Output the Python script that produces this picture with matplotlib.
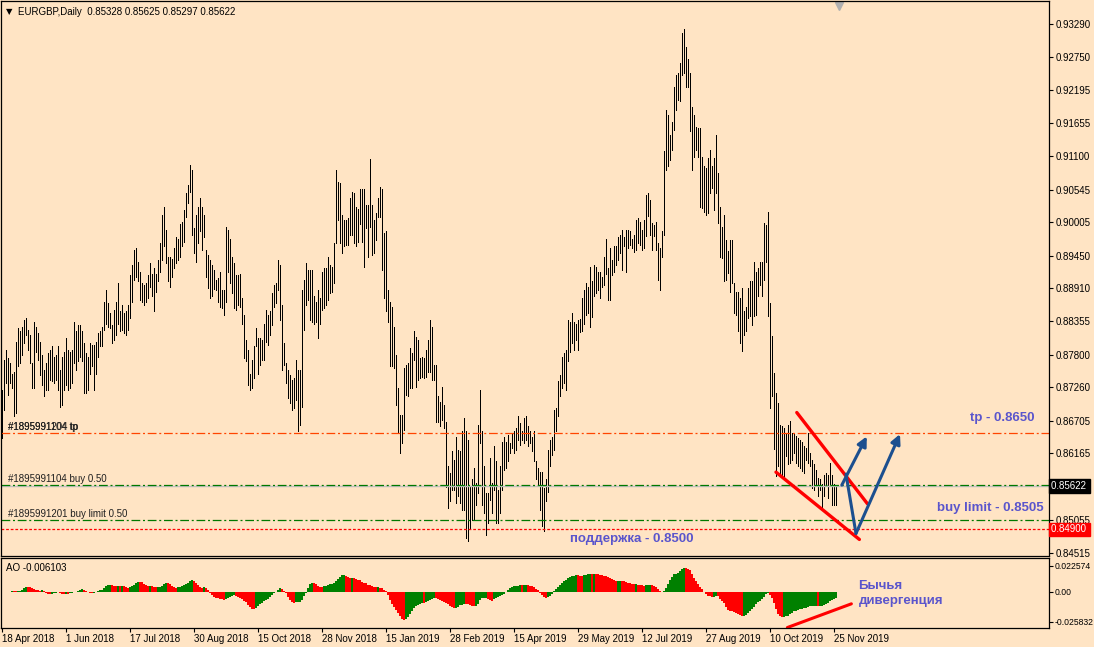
import matplotlib
matplotlib.use('Agg')
import matplotlib.pyplot as plt
import matplotlib.transforms as mtransforms
import numpy as np
import pandas as pd

# EURGBP daily bars, high / low in pips (x 1e-4)
high_pips = [
    8722, 8772, 8788, 8774, 8766, 8749, 8752, 8802, 8824, 8819,
    8827, 8838, 8841, 8821, 8813, 8766, 8835, 8827, 8816, 8802,
    8780, 8755, 8766, 8783, 8788, 8794, 8777, 8780, 8794, 8755,
    8777, 8785, 8808, 8788, 8785, 8788, 8835, 8819, 8830, 8830,
    8819, 8799, 8783, 8777, 8799, 8796, 8796, 8802, 8816, 8819,
    8827, 8868, 8888, 8866, 8849, 8830, 8855, 8868, 8899, 8852,
    8863, 8849, 8852, 8863, 8913, 8929, 8954, 8957, 8935, 8918,
    8899, 8896, 8899, 8913, 8932, 8915, 8924, 8915, 8938, 8965,
    9012, 9026, 8987, 8943, 8943, 8940, 8957, 8976, 8973, 8998,
    9001, 9020, 9048, 9062, 9095, 9087, 8990, 9012, 9026, 9040,
    9026, 9012, 8954, 8946, 8938, 8929, 8921, 8904, 8907, 8918,
    8888, 8888, 8993, 8987, 8973, 8943, 8932, 8913, 8913, 8915,
    8874, 8846, 8805, 8788, 8749, 8772, 8794, 8824, 8808, 8808,
    8805, 8832, 8855, 8846, 8852, 8882, 8896, 8899, 8938, 8929,
    8863, 8799, 8766, 8755, 8747, 8738, 8741, 8772, 8755, 8755,
    8888, 8904, 8932, 8921, 8921, 8921, 8877, 8868, 8888, 8874,
    8918, 8924, 8924, 8943, 8929, 8926, 8965, 9087, 9067, 9066,
    9012, 9004, 9004, 9007, 9040, 9051, 9048, 9026, 9023, 9056,
    9056, 9056, 9029, 9029, 9106, 9029, 9004, 9015, 9040, 9059,
    9056, 8982, 8985, 8888, 8868, 8860, 8827, 8780, 8725, 8680,
    8680, 8758, 8763, 8766, 8791, 8783, 8819, 8810, 8805, 8774,
    8777, 8774, 8788, 8805, 8838, 8827, 8763, 8763, 8711, 8702,
    8727, 8697, 8669, 8595, 8584, 8620, 8606, 8644, 8622, 8620,
    8653, 8675, 8653, 8639, 8561, 8573, 8592, 8567, 8664, 8722,
    8653, 8595, 8550, 8550, 8608, 8567, 8628, 8603, 8556, 8595,
    8636, 8644, 8636, 8647, 8633, 8650, 8653, 8658, 8678, 8667,
    8653, 8675, 8678, 8661, 8653, 8644, 8653, 8603, 8592, 8586,
    8586, 8559, 8573, 8622, 8639, 8644, 8689, 8691, 8736, 8747,
    8777, 8783, 8788, 8838, 8835, 8849, 8835, 8832, 8838, 8840,
    8874, 8888, 8899, 8893, 8926, 8902, 8929, 8926, 8918, 8918,
    8910, 8943, 8973, 8924, 8957, 8938, 8960, 8960, 8976, 8979,
    8987, 8976, 8987, 8987, 8985, 8973, 8979, 9004, 9007, 9001,
    8988, 9004, 9046, 9048, 9037, 8999, 8996, 9001, 8965, 8957,
    8985, 9118, 9187, 9178, 9145, 9167, 9225, 9245, 9248, 9264,
    9314, 9321, 9292, 9272, 9248, 9192, 9178, 9159, 9156, 9156,
    9109, 9093, 9090, 9107, 9120, 9093, 9107, 9145, 9082, 9026,
    8993, 9013, 8971, 8952, 8971, 8971, 8899, 8885, 8885, 8874,
    8891, 8852, 8860, 8891, 8902, 8902, 8935, 8918, 8924, 8935,
    8935, 8999, 8996, 9018, 8866, 8811, 8750, 8717, 8700, 8664,
    8661, 8659, 8650, 8664, 8670, 8650, 8650, 8645, 8642, 8639,
    8636, 8628, 8625, 8650, 8617, 8606, 8598, 8589, 8576, 8573,
    8565, 8581, 8584, 8581, 8601, 8581, 8565, 8562,
]
low_pips = [
    8642, 8689, 8733, 8714, 8733, 8725, 8678, 8683, 8761, 8766,
    8780, 8799, 8813, 8788, 8766, 8725, 8725, 8785, 8772, 8747,
    8730, 8711, 8722, 8722, 8738, 8736, 8733, 8738, 8722, 8694,
    8697, 8722, 8730, 8722, 8725, 8733, 8766, 8755, 8769, 8777,
    8769, 8716, 8716, 8722, 8749, 8761, 8722, 8749, 8777, 8794,
    8794, 8821, 8832, 8827, 8824, 8799, 8805, 8813, 8832, 8819,
    8821, 8816, 8813, 8821, 8841, 8868, 8904, 8910, 8902, 8871,
    8868, 8863, 8868, 8874, 8893, 8877, 8852, 8885, 8902, 8918,
    8938, 8960, 8932, 8902, 8893, 8910, 8924, 8932, 8938, 8943,
    8960, 8968, 9009, 9032, 9051, 8979, 8949, 8935, 8965, 8985,
    8954, 8976, 8910, 8891, 8874, 8877, 8890, 8888, 8868, 8860,
    8857, 8846, 8868, 8918, 8899, 8882, 8857, 8855, 8863, 8860,
    8832, 8774, 8769, 8730, 8722, 8725, 8741, 8794, 8749, 8763,
    8772, 8772, 8802, 8796, 8813, 8830, 8860, 8866, 8888, 8838,
    8755, 8763, 8733, 8708, 8700, 8689, 8691, 8705, 8653, 8664,
    8694, 8821, 8863, 8871, 8838, 8835, 8832, 8835, 8808, 8832,
    8855, 8857, 8863, 8871, 8882, 8885, 8899, 8965, 9004, 8965,
    8949, 8960, 8962, 8962, 8979, 8979, 8965, 8960, 8968, 8998,
    8968, 8926, 8990, 8943, 8993, 8946, 8949, 8971, 9009, 9009,
    8921, 8874, 8852, 8835, 8761, 8761, 8758, 8697, 8650, 8617,
    8633, 8655, 8714, 8711, 8725, 8725, 8772, 8727, 8738, 8741,
    8744, 8741, 8744, 8752, 8752, 8738, 8738, 8669, 8669, 8661,
    8672, 8658, 8561, 8526, 8537, 8556, 8556, 8534, 8545, 8534,
    8523, 8523, 8476, 8470, 8490, 8506, 8506, 8531, 8550, 8633,
    8531, 8517, 8481, 8501, 8539, 8517, 8556, 8501, 8501, 8517,
    8556, 8589, 8592, 8603, 8617, 8625, 8617, 8622, 8639, 8631,
    8639, 8633, 8639, 8628, 8633, 8620, 8603, 8573, 8564, 8523,
    8495, 8487, 8537, 8553, 8595, 8614, 8622, 8653, 8678, 8711,
    8725, 8733, 8722, 8769, 8785, 8799, 8788, 8805, 8788, 8818,
    8819, 8832, 8846, 8849, 8827, 8843, 8877, 8882, 8888, 8874,
    8893, 8896, 8915, 8871, 8871, 8913, 8918, 8929, 8938, 8949,
    8921, 8960, 8918, 8957, 8962, 8957, 8951, 8954, 8965, 8963,
    8954, 8957, 8977, 9010, 8979, 8954, 8977, 8954, 8905, 8888,
    8943, 8979, 9087, 9093, 9104, 9120, 9154, 9187, 9203, 9201,
    9245, 9248, 9225, 9225, 9151, 9087, 9109, 9120, 9109, 9026,
    9024, 9018, 9013, 9015, 9048, 9057, 9021, 9048, 8999, 8943,
    8941, 8902, 8905, 8916, 8885, 8899, 8849, 8847, 8819, 8800,
    8786, 8813, 8819, 8841, 8844, 8830, 8844, 8847, 8877, 8896,
    8877, 8905, 8935, 8844, 8692, 8711, 8623, 8578, 8595, 8578,
    8576, 8576, 8612, 8598, 8601, 8606, 8617, 8601, 8595, 8592,
    8587, 8584, 8606, 8601, 8595, 8559, 8556, 8565, 8545, 8556,
    8523, 8545, 8562, 8543, 8565, 8531, 8531, 8530,
]

date_ticks = [0, 32, 64, 96, 128, 160, 192, 224, 256, 288, 320, 352, 384, 416]
date_labels = ['18 Apr 2018', '1 Jun 2018', '17 Jul 2018', '30 Aug 2018',
               '15 Oct 2018', '28 Nov 2018', '15 Jan 2019', '28 Feb 2019',
               '15 Apr 2019', '29 May 2019', '12 Jul 2019', '27 Aug 2019',
               '10 Oct 2019', '25 Nov 2019']
price_ticks = [0.93290, 0.92750, 0.92195, 0.91655, 0.91100, 0.90545, 0.90005,
               0.89450, 0.88910, 0.88355, 0.87800, 0.87260, 0.86705, 0.86165,
               0.85055, 0.84515]
ao_ticks = [0.022574, 0.0, -0.025832]
ao_tick_labels = ['0.022574', '0.00', '-0.025832']

header = 'EURGBP,Daily  0.85328 0.85625 0.85297 0.85622'
ao_header = 'AO -0.006103'

tp_level = 0.8650
bid_level = 0.85622
buy_level = 0.85635
limit_level = 0.8505
support_level = 0.8490

# hand drawn objects (bar index, price)
channel_top = [(397.2, 0.86842), (432.5, 0.85328)]
channel_bottom = [(386.8, 0.85852), (428.5, 0.84734)]
arrow_one = [(419.7, 0.85637), (432.2, 0.86446)]
arrow_two = [(421.8, 0.85818), (426.8, 0.84833), (448.8, 0.86484)]
ao_line = [(392.5, -0.0309), (424.5, -0.0103)]

BG = '#ffe4c4'
GREEN = '#007800'
BLUE_TXT = '#5a55cc'
plt.rcParams['font.family'] = ['Liberation Sans', 'DejaVu Sans']

high = np.array(high_pips) / 10000.0
low = np.array(low_pips) / 10000.0
idx = np.arange(len(high))

med = pd.Series((high + low) / 2)
ao = (med.rolling(5, min_periods=1).mean() - med.rolling(34, min_periods=1).mean()).values
up = np.r_[True, np.diff(ao) >= 0]
ao_colors = np.where(up, '#008000', '#ff0000')

W, H = 1094, 647
fig = plt.figure(figsize=(W / 100, H / 100), dpi=100, facecolor=BG)
ax = fig.add_axes([1 / W, 1 - 556 / H, 1048 / W, 555 / H], facecolor=BG)
ax2 = fig.add_axes([1 / W, 1 - 628 / H, 1048 / W, 70 / H], facecolor=BG)

x_lo, x_hi = -0.665, 523.3
for a in (ax, ax2):
    a.set_xlim(x_lo, x_hi)
    for s in a.spines.values():
        s.set_color('black')
        s.set_linewidth(0.9)

# price bars
ax.vlines(idx, low, high, color='black', lw=0.5, antialiased=False)
ax.set_ylim(0.84459, 0.93677)

# order / level lines
dashdot = (0, (7.0, 2.2, 1.6, 2.2))
ax.axhline(tp_level, color='#ff4500', lw=0.9, linestyle=dashdot)
ax.axhline(bid_level, color='#c0c0c0', lw=1.0)
ax.axhline(buy_level, color=GREEN, lw=0.9, linestyle=dashdot)
ax.axhline(limit_level, color=GREEN, lw=0.9, linestyle=dashdot)
ax.axhline(support_level, color='#ff0000', lw=0.9, linestyle=(0, (2.2, 1.5)))

lbl = dict(fontsize=7, color='#202020', va='bottom', ha='left')
ax.text(2.8, tp_level + 0.0002, '#1895991104 tp', **lbl)
ax.text(2.8, tp_level + 0.0002, '#1895991204 tp', **lbl)
ax.text(2.8, buy_level + 0.0002, '#1895991104 buy 0.50', **lbl)
ax.text(2.8, limit_level + 0.0002, '#1895991201 buy limit 0.50', **lbl)

# chart header with the small drop-down triangle
ax.text(2.0, 0.9350, '\u25BC', fontsize=6, color='black', va='center', ha='left',
        family=['DejaVu Sans'])
ax.text(7.8, 0.9350, header, fontsize=7, color='black', va='center', ha='left')

# channel lines and arrows
for seg in (channel_top, channel_bottom):
    xs, ys = zip(*seg)
    ax.plot(xs, ys, color='#ff0000', lw=2.4, solid_capstyle='round')
arrow_kw = dict(arrowstyle='-|>', color='#1c4f8f', lw=2.2, mutation_scale=14,
                shrinkA=0, shrinkB=0)
ax.annotate('', xy=arrow_one[1], xytext=arrow_one[0], arrowprops=arrow_kw)
xs, ys = zip(*arrow_two[:2])
ax.plot(xs, ys, color='#1c4f8f', lw=2.2, solid_capstyle='round')
ax.annotate('', xy=arrow_two[2], xytext=arrow_two[1], arrowprops=arrow_kw)

tfont = dict(fontsize=9.5, fontweight='bold', color=BLUE_TXT)
ax.text(500, 0.86745, 'tp - 0.8650', ha='center', va='center', **tfont)
ax.text(494, 0.85250, 'buy limit - 0.8505', ha='center', va='center', **tfont)
ax.text(314.5, 0.84740, 'поддержка - 0.8500', ha='center', va='center', **tfont)

# shift marker at the top
ax.plot([418.5], [0.93600], marker='v', color='#b0b0b0', ms=6, clip_on=False)

# right price scale
ax.yaxis.tick_right()
ax.set_yticks(price_ticks)
ax.set_yticklabels(['%.5f' % v for v in price_ticks])
ax.tick_params(axis='y', direction='out', length=3, width=0.8, pad=2, labelsize=7, colors='black')
ax.set_xticks([])

yt = mtransforms.blended_transform_factory(ax.transAxes, ax.transData)
ax.text(1.0015, bid_level, '0.85622 ', transform=yt, fontsize=7, color='white', va='center', ha='left',
        bbox=dict(boxstyle='square,pad=0.2', fc='black', ec='black'))
ax.text(1.0015, support_level, '0.84900 ', transform=yt, fontsize=7, color='white', va='center', ha='left',
        bbox=dict(boxstyle='square,pad=0.2', fc='#ff0000', ec='#ff0000'))

# Awesome Oscillator
ax2.bar(idx, ao, width=1.0, color=ao_colors, linewidth=0)
ax2.set_ylim(-0.03131, 0.02952)
ax2.yaxis.tick_right()
ax2.set_yticks(ao_ticks)
ax2.set_yticklabels(ao_tick_labels)
ax2.tick_params(axis='y', direction='out', length=3, width=0.8, pad=1, labelsize=6.2)
ax2.set_xticks(date_ticks)
ax2.set_xticklabels(date_labels, ha='left')
ax2.tick_params(axis='x', direction='out', length=3, width=0.8, pad=1, labelsize=7)
ax2.text(0.005, 0.86, ao_header, transform=ax2.transAxes, fontsize=7, va='center', ha='left')

xs, ys = zip(*ao_line)
ax2.plot(xs, ys, color='#ff0000', lw=2.2, clip_on=False, solid_capstyle='round')
ax2.text(428, -0.0015, 'Бычья\nдивергенция', ha='left', va='center', linespacing=1.35, **tfont)

fig.savefig('out.png', dpi=100, facecolor=BG)
